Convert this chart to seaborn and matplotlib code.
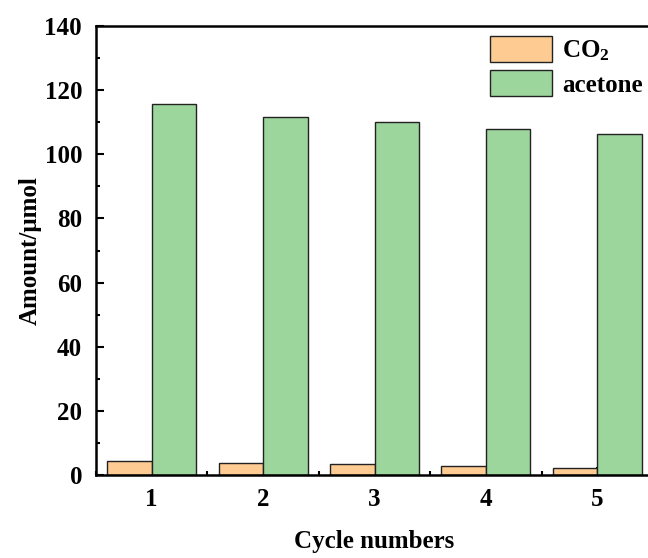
import matplotlib
matplotlib.use("Agg")
import matplotlib.pyplot as plt
import seaborn as sns
import pandas as pd
from matplotlib.ticker import MultipleLocator, AutoMinorLocator

# Values
cycles = ["1", "2", "3", "4", "5"]
co2 = [4.3, 3.8, 3.4, 2.7, 2.1]
acetone = [115.7, 111.5, 110.2, 107.8, 106.4]
series_names = ["CO$_\\mathrm{2}$", "acetone"]
bar_colors = ["#FECB92", "#9CD69C"]

df = pd.DataFrame({
    "cycle": cycles * 2,
    "amount": co2 + acetone,
    "product": [series_names[0]] * len(cycles) + [series_names[1]] * len(cycles),
})

sns.set_style("white")
plt.rcParams["font.family"] = ["Liberation Serif", "DejaVu Serif"]
plt.rcParams["font.weight"] = "bold"
plt.rcParams["text.color"] = "black"
plt.rcParams["axes.labelcolor"] = "black"
plt.rcParams["xtick.color"] = "black"
plt.rcParams["ytick.color"] = "black"
plt.rcParams["mathtext.fontset"] = "custom"
plt.rcParams["mathtext.rm"] = "Liberation Serif:bold"
plt.rcParams["mathtext.it"] = "Liberation Serif:italic:bold"
plt.rcParams["mathtext.bf"] = "Liberation Serif:bold"

fig = plt.figure(figsize=(6.48, 5.58), dpi=100)
ax = fig.add_axes([96 / 648, 83 / 558, 557 / 648, 449 / 558])

sns.barplot(data=df, x="cycle", y="amount", hue="product", palette=bar_colors,
            saturation=1, width=0.8, edgecolor="#222222", linewidth=1.0, ax=ax)

ax.set_xlim(-0.5, 4.5)
ax.set_ylim(0, 140)
ax.yaxis.set_major_locator(MultipleLocator(20))
ax.yaxis.set_minor_locator(AutoMinorLocator(2))
ax.xaxis.set_minor_locator(MultipleLocator(1, offset=0.5))

ax.tick_params(axis="both", which="major", direction="in", length=6, width=1.5,
               labelsize=18, bottom=True, left=True, top=False, right=False,
               colors="black")
ax.tick_params(axis="y", which="major", pad=10)
ax.tick_params(axis="x", which="major", pad=9)
ax.tick_params(axis="both", which="minor", direction="in", length=3, width=1.5,
               bottom=True, left=True, top=False, right=False, colors="black")
for lbl in ax.get_xticklabels() + ax.get_yticklabels():
    lbl.set_fontweight("bold")

for side in ["left", "bottom", "top", "right"]:
    ax.spines[side].set_visible(True)
    ax.spines[side].set_linewidth(1.8)
    ax.spines[side].set_color("black")

ax.set_xlabel("Cycle numbers", fontsize=18, fontweight="bold", labelpad=14)
ax.set_ylabel("Amount/μmol", fontsize=18, fontweight="bold", labelpad=2)

ax.legend(loc="upper right", bbox_to_anchor=(1.0, 1.0), frameon=False,
          handlelength=2.5, handleheight=1.2, labelspacing=0.3,
          handletextpad=0.4, borderaxespad=0.0,
          prop={"weight": "bold", "size": 18})

fig.savefig("out.png", dpi=100)
